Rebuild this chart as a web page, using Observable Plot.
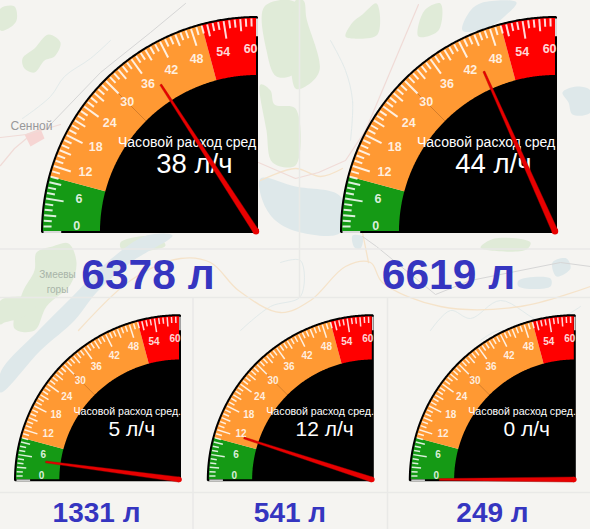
<!DOCTYPE html>
<html>
<head>
<meta charset="utf-8">
<script src="https://cdn.jsdelivr.net/npm/d3@7"></script>
<script src="https://cdn.jsdelivr.net/npm/@observablehq/plot@0.6"></script>
<style>
html,body{margin:0;padding:0;background:#f5f4f1;}
svg{display:block;}
</style>
</head>
<body>
<div id="chart"></div>
<script>
// Chart values
const hourlyRates = [38, 44, 5, 12, 0];
const totalLitres = [6378, 6619, 1331, 541, 249];
const tickLabels = [0, 6, 12, 18, 24, 30, 36, 42, 48, 54, 60];
const bandStarts = [0, 10, 50];
const bandEnds = [10, 50, 60];
const bandColors = ["#159a15", "#ff9933", "#ff0000"];
const gaugeTitle = "Часовой расход сред.";
const gaugeMax = 60;
const unitRate = "л/ч";
const unitTotal = "л";

// Frame of each gauge (right/bottom corner and size)
const gaugeCx = [256.5, 555.5, 179.5, 372.3, 574.3];
const gaugeCy = [231.5, 231.5, 479.7, 479.7, 479.7];
const gaugeR = [216, 216, 166, 166, 166];
const totalCx = [147.5, 448, 96, 289.5, 492];

// Background map
const mapParks = [
  [[0,8],[14,6],[16,20],[8,28],[0,30]],
  [[22,58],[34,48],[48,34],[60,42],[54,56],[44,60],[34,72],[24,68]],
  [[264,6],[295,2],[295,72],[276,76],[266,50]],
  [[260,84],[270,90],[274,104],[295,108],[295,165],[272,162],[266,130]],
  [[345,36],[352,22],[362,14],[376,3],[377,34],[352,38]],
  [[418,36],[424,10],[440,3],[438,30]],
  [[295,0],[303,0],[306,18],[319,70],[305,86],[295,88]],
  [[36,252],[52,246],[68,243],[76,262],[70,284],[46,306],[34,330],[14,328],[22,292],[34,270]],
  [[120,242],[156,236],[165,245],[150,250],[122,250]],
  [[480,247],[494,238],[530,242],[526,249],[490,250]],
  [[0,300],[20,296],[40,298],[24,316],[4,322],[0,324]]
];
const mapWater = [
  [[146,235],[172,235],[130,262],[96,292],[74,320],[40,350],[0,392],[0,372],[38,330],[70,298],[104,264]],
  [[260,178],[295,186],[340,196],[340,232],[300,232],[275,220],[262,200]],
  [[462,30],[470,10],[482,2],[516,2],[504,16],[486,28]],
  [[562,92],[576,86],[590,90],[590,112],[572,114],[568,102]],
  [[352,235],[362,236],[360,248],[354,247]],
  [[552,262],[566,258],[570,268],[556,276]],
  [[518,280],[550,278],[550,286],[518,286]]
];
const mapRoadsOrange = [
  [[78,330],[130,280],[180,258],[210,262],[238,290],[280,312],[310,300],[345,266],[370,262],[382,282],[440,306],[520,306],[590,286]],
  [[362,232],[368,262]],
  [[260,180],[295,168],[320,176],[342,168]]
];
const mapRoadsPink = [
  [[0,137],[26,134],[40,130],[60,124]],
  [[0,165],[14,148],[26,138]],
  [[258,162],[295,178],[318,172],[345,160],[365,130],[418,4]]
];
const mapRoadsGray = [
  [[50,124],[100,72],[150,32],[185,3]],
  [[362,236],[376,246],[435,294],[470,280],[560,262],[590,266]]
];
const mapStreams = [
  [[330,40],[345,70],[352,100],[350,140]],
  [[22,118],[50,96],[64,76],[90,58],[110,40]],
  [[240,330],[270,306],[300,296],[300,260],[280,262]],
  [[430,330],[450,310],[470,318],[500,300],[545,322],[580,306]],
  [[245,440],[270,400],[285,350]],
  [[480,340],[500,330],[530,350],[560,336]]
];
const gridH = [248.5, 297, 492];
const gridV = [192.5, 387, 299];
const townPatch = [[[24,134],[40,128],[44,138],[30,146]]];
const mapLabels = [
  {text:"Сенной", x:31, y:126, size:12, color:"#98989a", style:"normal"},
  {text:"Змеевы", x:57, y:274, size:10, color:"#a8b4a8", style:"italic"},
  {text:"горы", x:57, y:289, size:10, color:"#a8b4a8", style:"italic"}
];

const FONT = "Liberation Sans";
const toRows = (shapes) => shapes.flatMap((s, i) => s.map(([x, y]) => ({x, y, z: i})));

// value on the dial -> position (0 at the left, 60 at the top)
function dial(g, value, r) {
  const a = value / gaugeMax * Math.PI / 2;
  return {x: g.cx - r * Math.cos(a), y: g.cy - r * Math.sin(a)};
}
// labels sit on a slightly narrower sweep so that 0 and 60 stay inside the dial
function labelSpot(g, value) {
  const deg = 2 + value / gaugeMax * 86;
  const r = g.R * (0.835 + 0.015 * Math.min(1, value / 30));
  const a = deg * Math.PI / 180;
  return {x: g.cx - r * Math.cos(a), y: g.cy - r * Math.sin(a)};
}
function sector(g, from, to, r0, r1) {
  const vals = d3.range(from, to, 0.25).concat(to);
  const pts = vals.map(v => dial(g, v, r1));
  if (r0 > 0) return pts.concat(vals.slice().reverse().map(v => dial(g, v, r0)));
  return pts.concat([{x: g.cx, y: g.cy}]);
}

function gaugeMarks(rate, i) {
  const g = {cx: gaugeCx[i], cy: gaugeCy[i], R: gaugeR[i]};
  const big = g.R > 200;
  const inner = g.R * 0.727;
  const outer = g.R - 1;
  const polygon = (rows, opts) => Plot.line(rows, {x: "x", y: "y", curve: "linear-closed", ...opts});

  const ticks = d3.range(0, gaugeMax + 1).map(v => {
    const len = v % 6 === 0 ? 0.082 : v % 3 === 0 ? 0.056 : 0.037;
    const a = dial(g, v, g.R - 2.5), b = dial(g, v, g.R - 2.5 - len * g.R);
    return {x1: a.x, y1: a.y, x2: b.x, y2: b.y, major: v % 6 === 0};
  });
  const labels = tickLabels.map(v => ({v, ...labelSpot(g, v)}));

  // Needle: tapered, from the pivot towards the value
  const pivot = {x: g.cx - 1, y: g.cy - 0.7};
  const a = rate / gaugeMax * Math.PI / 2;
  const ux = -Math.cos(a), uy = -Math.sin(a), nx = -uy, ny = ux;
  const L = g.R * 0.81, w0 = big ? 3 : 2.6, w1 = big ? 1 : 0.9;
  const needle = [
    {x: pivot.x + nx * w0, y: pivot.y + ny * w0},
    {x: pivot.x + ux * L + nx * w1, y: pivot.y + uy * L + ny * w1},
    {x: pivot.x + ux * L - nx * w1, y: pivot.y + uy * L - ny * w1},
    {x: pivot.x - nx * w0, y: pivot.y - ny * w0}
  ];
  const seam = [dial(g, 30, inner), dial(g, 30, g.R * 0.93)];

  return [
    // bands
    ...bandStarts.map((s, k) => polygon(sector(g, s, bandEnds[k], 0, outer), {fill: bandColors[k], stroke: "none"})),
    Plot.line(seam, {x: "x", y: "y", stroke: "#9a5a20", strokeWidth: 0.6, strokeOpacity: 0.7}),
    // black centre
    polygon(sector(g, 0, gaugeMax, 0, inner), {fill: "#000", stroke: "none"}),
    // border
    polygon(sector(g, 0, gaugeMax, 0, outer), {fill: "none", stroke: "#000", strokeWidth: 2, strokeLinejoin: "miter"}),
    // scale
    Plot.link(ticks, {x1: "x1", y1: "y1", x2: "x2", y2: "y2", stroke: "#fff", strokeOpacity: 0.85, strokeWidth: big ? 2 : 1.5}),
    Plot.text(labels, {x: "x", y: "y", text: d => String(d.v), fill: "#fff", fillOpacity: 0.85, fontFamily: FONT, fontWeight: "bold", fontSize: big ? 12.5 : 10}),
    // captions
    Plot.text([big ? gaugeTitle.slice(0, -1) : gaugeTitle], {
      x: g.cx - (big ? 139 : 106.5), y: g.cy + (big ? -85 : -65), text: d => d, textAnchor: "start", lineAnchor: "bottom",
      fill: "#fff", fontFamily: FONT, fontSize: big ? 14 : 10.6
    }),
    Plot.text([`${rate} ${unitRate}`], {
      x: g.cx - g.R * 0.29, y: g.cy + (big ? -59 : -44.5), text: d => d, lineAnchor: "bottom",
      fill: "#fff", fontFamily: FONT, fontSize: big ? 27.5 : 21
    }),
    // needle
    polygon(needle, {fill: "#e80000", stroke: "#b00000", strokeWidth: 0.4}),
    Plot.dot([pivot], {x: "x", y: "y", r: big ? 3.2 : 2.8, fill: "#e80000"}),
    // total
    Plot.text([`${totalLitres[i]} ${unitTotal}`], {
      x: totalCx[i], y: g.cy + (big ? 57 : 41.5), text: d => d, lineAnchor: "bottom",
      fill: "#3535c0", fontFamily: FONT, fontWeight: "bold", fontSize: big ? 42.5 : 28
    })
  ];
}

const chart = Plot.plot({
  width: 590, height: 529,
  margin: 0,
  style: {background: "transparent", overflow: "hidden"},
  x: {domain: [0, 590], range: [0, 590], axis: null},
  y: {domain: [0, 529], range: [0, 529], axis: null},
  marks: [
    Plot.line(toRows(mapParks), {x: "x", y: "y", z: "z", curve: "catmull-rom-closed", fill: "#e0ebd8", stroke: "none"}),
    Plot.line(toRows(mapWater), {x: "x", y: "y", z: "z", curve: "catmull-rom-closed", fill: "#dee8ea", stroke: "none"}),
    Plot.line(toRows(townPatch), {x: "x", y: "y", z: "z", curve: "linear-closed", fill: "#f6d5d3", stroke: "none"}),
    Plot.line(toRows(mapStreams), {x: "x", y: "y", z: "z", curve: "catmull-rom", stroke: "#e2eaea", strokeWidth: 1}),
    Plot.line(toRows(mapRoadsOrange), {x: "x", y: "y", z: "z", curve: "catmull-rom", stroke: "#f5e3ca", strokeWidth: 1.3}),
    Plot.line(toRows(mapRoadsPink), {x: "x", y: "y", z: "z", curve: "linear", stroke: "#f0dbd7", strokeWidth: 1.2}),
    Plot.line(toRows(mapRoadsGray), {x: "x", y: "y", z: "z", curve: "linear", stroke: "#d6d6d6", strokeWidth: 1}),
    Plot.ruleY(gridH, {stroke: "#e9e9e7", strokeWidth: 1.5}),
    Plot.ruleX(gridV.slice(0, 2), {y1: 297, y2: 529, stroke: "#e9e9e7", strokeWidth: 1.5}),
    Plot.ruleX(gridV.slice(2), {y1: 0, y2: 297, stroke: "#e9e9e7", strokeWidth: 1.5}),
    Plot.text(mapLabels, {x: "x", y: "y", text: "text", fill: "color", fontSize: "size", fontStyle: "style", fontFamily: FONT}),
    ...hourlyRates.flatMap(gaugeMarks)
  ]
});
document.getElementById("chart").append(chart);
</script>
</body>
</html>
